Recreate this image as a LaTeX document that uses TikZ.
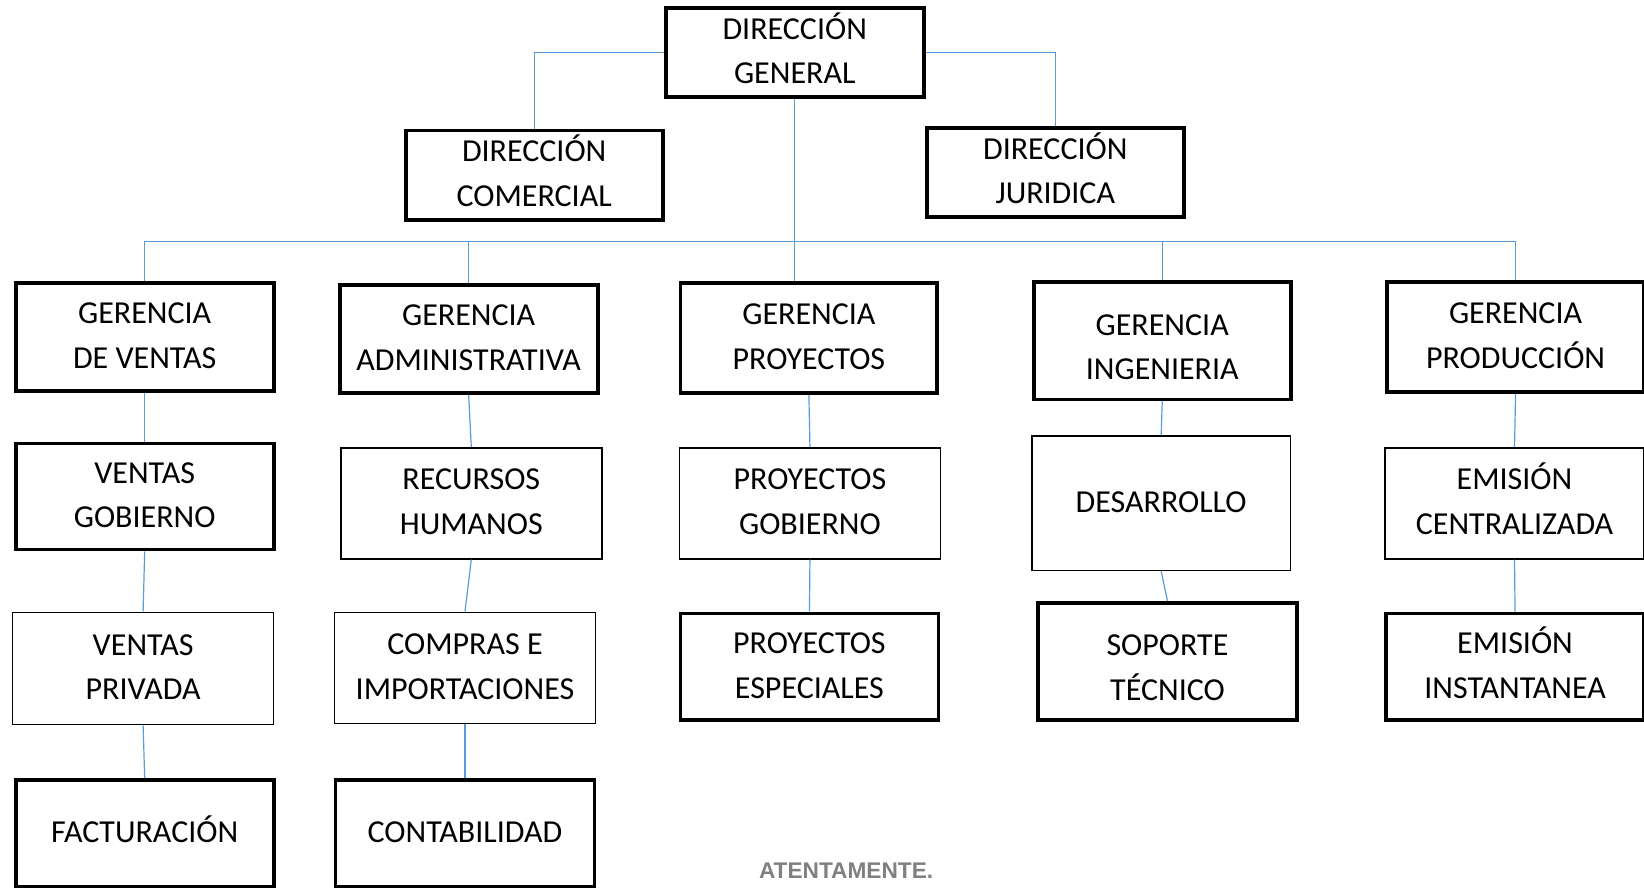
\documentclass[tikz,border=0pt]{standalone}
\usepackage{fontspec}
\setmainfont{Carlito}
\newfontfamily\attfont{Liberation Sans}
\definecolor{connblue}{RGB}{91,155,213}
\definecolor{attgray}{RGB}{128,128,128}
\tikzset{
  boxbase/.style={draw=black, inner sep=0pt, align=center, fill=white,
    font=\fontsize{24}{33.5}\selectfont},
  tbox/.style={boxbase, line width=2.8pt},
  nbox/.style={boxbase, line width=1.2pt},
  conn/.style={draw=connblue, line width=0.9pt},
}
% \obox{style}{name}{x1}{y1}{x2}{y2}{text}
\newcommand\obox[7]{%
  \node[#1, minimum width={(#5-#3)*0.7864pt}, minimum height={(#6-#4)*0.7864pt}]
    (#2) at ({(#3+#5)/2},{(#4+#6)/2}) {#7};}
\newcommand\lowstrut{\rule{0pt}{35pt}}
\begin{document}
\begin{tikzpicture}[x=0.7864pt, y=-0.7864pt]
\useasboundingbox (0,0) rectangle (1568,846);
% top level
\obox{tbox}{dg}{635}{10}{881}{90}{\strut DIRECCIÓN\\\strut GENERAL}
\obox{tbox}{dc}{387}{128}{632}{206}{\strut DIRECCIÓN\\\strut COMERCIAL}
\obox{tbox}{dj}{884}{125}{1129}{204}{\strut DIRECCIÓN\\\strut JURIDICA}
% gerencias
\obox{tbox}{gv}{15}{270}{261}{373}{\strut GERENCIA\\\strut DE VENTAS}
\obox{tbox}{ga}{324}{272}{570}{375}{\strut GERENCIA\\\strut ADMINISTRATIVA}
\obox{tbox}{gp}{649}{270}{894}{375}{\strut GERENCIA\\\strut PROYECTOS}
\obox{tbox}{gi}{986}{269}{1231}{381}{\lowstrut GERENCIA\\\strut INGENIERIA}
\obox{tbox}{gpr}{1323}{269}{1568}{374}{\strut GERENCIA\\\strut PRODUCCIÓN}
% second row
\obox{tbox}{vg}{15}{423}{261}{524}{\strut VENTAS\\\strut GOBIERNO}
\obox{nbox}{rh}{325}{427}{574}{533}{\strut RECURSOS\\\strut HUMANOS}
\obox{nbox}{pg}{648}{427}{897}{533}{\strut PROYECTOS\\\strut GOBIERNO}
\obox{nbox}{des}{984}{416}{1231}{544}{\strut DESARROLLO}
\obox{nbox}{ec}{1321}{427}{1568}{533}{\strut EMISIÓN\\\strut CENTRALIZADA}
% third row
\obox{nbox}{vp}{12}{584}{261}{691}{\strut VENTAS\\\strut PRIVADA}
\obox{nbox}{ci}{319}{584}{568}{690}{\strut COMPRAS E\\\strut IMPORTACIONES}
\obox{tbox}{pe}{649}{585}{895}{687}{\strut PROYECTOS\\\strut ESPECIALES}
\obox{tbox}{st}{990}{575}{1237}{687}{\lowstrut SOPORTE\\\strut TÉCNICO}
\obox{tbox}{ei}{1322}{585}{1568}{687}{\strut EMISIÓN\\\strut INSTANTANEA}
% fourth row
\obox{tbox}{fac}{15}{744}{261}{846}{\strut FACTURACIÓN}
\obox{tbox}{con}{320}{744}{567}{846}{\strut CONTABILIDAD}
% connectors
\coordinate (bus) at (0,230);
\draw[conn] (dg.west) -| (dc.north);
\draw[conn] (dg.east) -| (dj.north);
\draw[conn] (dg.south) -- (dg.south |- gp.north);
\draw[conn] (gv.north) -- (gv.north |- bus) -- (gpr.north |- bus) -- (gpr.north);
\draw[conn] (ga.north |- bus) -- (ga.north);
\draw[conn] (gi.north |- bus) -- (gi.north);
\draw[conn] (gv.south) -- (vg.north);
\draw[conn] (vg.south) -- (vp.north);
\draw[conn] (vp.south) -- (fac.north);
\draw[conn] (ga.south) -- (rh.north);
\draw[conn] (rh.south) -- (ci.north);
\draw[conn] (ci.south) -- (con.north);
\draw[conn] (gp.south) -- (pg.north);
\draw[conn] (pg.south) -- (pe.north);
\draw[conn] (gi.south) -- (des.north);
\draw[conn] (des.south) -- (st.north);
\draw[conn] (gpr.south) -- (ec.north);
\draw[conn] (ec.south) -- (ei.north);
% footer
\node[anchor=base, text=attgray, font=\attfont\bfseries\fontsize{17}{20}\selectfont, inner sep=0pt] (att) at (807,838) {ATENTAMENTE.};
\end{tikzpicture}
\end{document}
